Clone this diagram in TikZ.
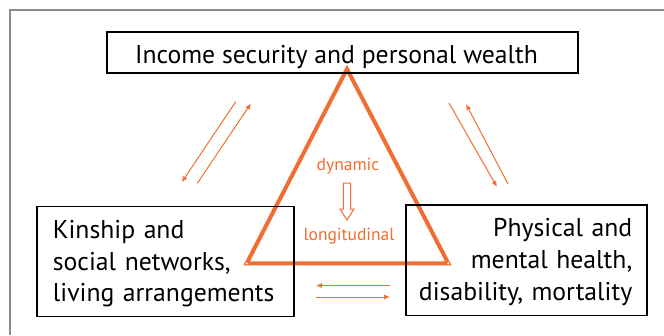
\documentclass[tikz,border=0pt]{standalone}
\usepackage{fontspec}
\setmainfont{PT Sans}
\usetikzlibrary{arrows.meta}
\definecolor{org}{RGB}{240,110,50}
\definecolor{frm}{RGB}{140,140,140}
\tikzset{
  box/.style={draw=black, line width=1.3pt, inner sep=0pt},
  btext/.style={inner sep=0pt, font=\fontsize{25.7}{31.7}\selectfont},
  tri/.style={draw=org, line width=4pt, line join=miter},
  rel/.style={draw=org, line width=1pt, -{Latex[length=6pt,width=5pt]}},
  otext/.style={text=org, font=\fontsize{17.5}{20}\selectfont, inner sep=0pt},
  hollow/.style={draw=org, line width=1pt, fill=white, line join=miter},
}
\begin{document}
\begin{tikzpicture}[x=1pt,y=-1pt]
\useasboundingbox (0,0) rectangle (664,335);
\draw[frm, line width=1.3pt] (10,335) -- (10,10) -- (664,10);
% triangle
\coordinate (apex) at (347,69);
\coordinate (bl) at (246.7,263.3);
\coordinate (br) at (448.3,263.3);
\draw[tri] (apex) -- (br) -- (bl) -- cycle;
\fill[white] (bl) circle (1.1);
\fill[white] (br) circle (1.1);
% texts in triangle
\node[otext, anchor=base] (dyn) at (348,170.7) {dynamic};
\node[otext, anchor=base] (lon) at (349,240) {longitudinal};
\coordinate (ha) at (347,183);
\draw[hollow] ([xshift=-3.6pt]ha) -- ++(0,26) -- ++(-3.4,0) -- (347,220) -- (354,209) -- ++(-3.4,0) -- ([xshift=3.6pt]ha) -- cycle;
% boxes
\node[box, minimum width=471pt, minimum height=41pt] (inc) at (342.5,52.5) {};
\node[box, minimum width=257pt, minimum height=110pt] (kin) at (165.5,261.7) {};
\node[box, minimum width=241pt, minimum height=110.7pt] (phy) at (526.6,260.3) {};
\node[btext, anchor=base] (inct) at (336.5,63.3) {Income security and personal wealth};
\node[btext, anchor=base west, text width=240pt, align=left] (kint) at (52.7,238.3) {Kinship and\\social networks,\\living arrangements};
\node[btext, anchor=base east, text width=230pt, align=right] (phyt) at (632.5,236.7) {Physical and\\mental health,\\disability, mortality};
% relation arrows
\coordinate (t1s) at (235.7,101.7);  \coordinate (t1e) at (181.7,182.3);
\coordinate (t2s) at (197.3,183.3);  \coordinate (t2e) at (251,103.3);
\coordinate (r1s) at (449,103);  \coordinate (r1e) at (497,187);
\coordinate (r2s) at (508,184);  \coordinate (r2e) at (466,104);
\coordinate (b1s) at (390,285.5); \coordinate (b1e) at (316,285.5);
\coordinate (b2s) at (316,297);  \coordinate (b2e) at (390,297);
\draw[rel] (t1s) -- (t1e);
\draw[rel] (t2s) -- (t2e);
\draw[rel] (r1s) -- (r1e);
\draw[rel] (r2s) -- (r2e);
\draw[rel] (b1s) -- (b1e);
\draw[rel] (b2s) -- (b2e);
\end{tikzpicture}
\end{document}
